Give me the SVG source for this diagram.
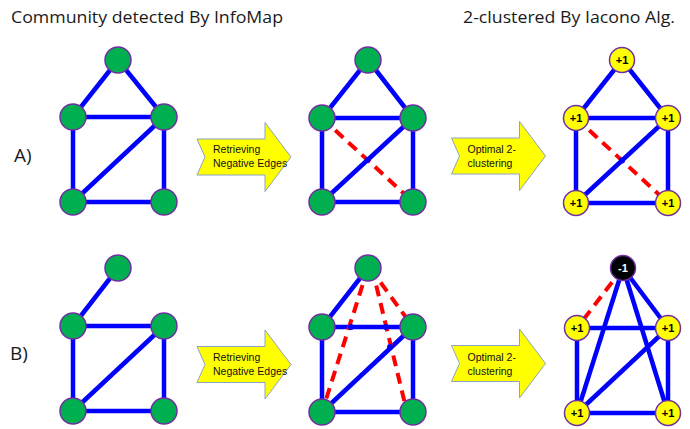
<svg xmlns="http://www.w3.org/2000/svg" xmlns:xlink="http://www.w3.org/1999/xlink" width="690" height="429" viewBox="0 0 690 429">
<defs>
<style>
.title{font-family:"Open Sans","Liberation Sans",sans-serif;font-size:17px;fill:#1a1a1a}
.lab{font-family:"Open Sans","Liberation Sans",sans-serif;font-size:19px;fill:#1a1a1a}
.at{font-family:"Liberation Sans",Arial,sans-serif;font-size:10.5px;fill:#111}
.e{stroke:#0000FF;stroke-width:4.5;fill:none}
.n{stroke:#FF0000;stroke-width:4;stroke-dasharray:11 7;fill:none}
.g{fill:#00B050;stroke:#7030A0;stroke-width:1.5}
.y{fill:#FFFF00;stroke:#7030A0;stroke-width:1.5}
.k{fill:#000000;stroke:#7030A0;stroke-width:1.5}
.nt{font-family:"Liberation Sans",Arial,sans-serif;font-size:11px;font-weight:bold;text-anchor:middle;fill:#000}
.wt{fill:#FFFFFF}
.dot{fill:#0000FF}
.arr{fill:#FFFF00;stroke:#8AA3C0;stroke-width:1}
</style>
<path id="arrow" d="M0,-18 L68,-18 L68,-34.5 L94,0 L68,34.5 L68,18 L0,18 L8,0 Z"/>
</defs>
<rect width="690" height="429" fill="#FFFFFF"/>
<text class="title" x="11" y="23" textLength="272" lengthAdjust="spacingAndGlyphs">Community detected By InfoMap</text>
<text class="title" x="463" y="23" textLength="212" lengthAdjust="spacingAndGlyphs">2-clustered By Iacono Alg.</text>
<text class="lab" x="14" y="162">A)</text>
<text class="lab" x="10" y="360">B)</text>
<g id="arrows">
<g id="arrowA1"><use xlink:href="#arrow" class="arr" transform="translate(197,157)"/><text class="at" x="213" y="153">Retrieving</text><text class="at" x="213" y="167">Negative Edges</text></g>
<g id="arrowA2"><use xlink:href="#arrow" class="arr" transform="translate(451.5,156)"/><text class="at" x="467.5" y="153">Optimal 2-</text><text class="at" x="467.5" y="167">clustering</text></g>
<g id="arrowB1"><use xlink:href="#arrow" class="arr" transform="translate(197,364.5)"/><text class="at" x="213" y="361">Retrieving</text><text class="at" x="213" y="375">Negative Edges</text></g>
<g id="arrowB2"><use xlink:href="#arrow" class="arr" transform="translate(451.5,363.5)"/><text class="at" x="467.5" y="361">Optimal 2-</text><text class="at" x="467.5" y="375">clustering</text></g>
</g>
<g id="connectors">
<line class="e" x1="118" y1="60" x2="73" y2="117"/>
<line class="e" x1="118" y1="60" x2="164" y2="117"/>
<line class="e" x1="73" y1="117" x2="164" y2="117"/>
<line class="e" x1="73" y1="117" x2="73" y2="202"/>
<line class="e" x1="164" y1="117" x2="164" y2="202"/>
<line class="e" x1="73" y1="202" x2="164" y2="117"/>
<line class="e" x1="73" y1="202" x2="164" y2="202"/>
<line class="e" x1="368" y1="60" x2="322" y2="118"/>
<line class="e" x1="368" y1="60" x2="413" y2="118"/>
<line class="e" x1="322" y1="118" x2="413" y2="118"/>
<line class="e" x1="322" y1="118" x2="322" y2="202"/>
<line class="e" x1="413" y1="118" x2="413" y2="202"/>
<line class="e" x1="322" y1="202" x2="413" y2="118"/>
<line class="e" x1="322" y1="202" x2="413" y2="202"/>
<line class="n" x1="322" y1="118" x2="413" y2="202"/>
<line class="e" x1="622" y1="60" x2="576" y2="118"/>
<line class="e" x1="622" y1="60" x2="668" y2="118"/>
<line class="e" x1="576" y1="118" x2="668" y2="118"/>
<line class="e" x1="576" y1="118" x2="576" y2="203"/>
<line class="e" x1="668" y1="118" x2="668" y2="203"/>
<line class="e" x1="576" y1="203" x2="668" y2="118"/>
<line class="e" x1="576" y1="203" x2="668" y2="203"/>
<line class="n" x1="576" y1="118" x2="668" y2="203"/>
<line class="e" x1="118" y1="268" x2="73" y2="326"/>
<line class="e" x1="73" y1="326" x2="164" y2="326"/>
<line class="e" x1="73" y1="326" x2="73" y2="411"/>
<line class="e" x1="164" y1="326" x2="164" y2="411"/>
<line class="e" x1="73" y1="411" x2="164" y2="326"/>
<line class="e" x1="73" y1="411" x2="164" y2="411"/>
<line class="e" x1="368" y1="268" x2="322" y2="327"/>
<line class="e" x1="322" y1="327" x2="413" y2="327"/>
<line class="e" x1="322" y1="327" x2="322" y2="412"/>
<line class="e" x1="413" y1="327" x2="413" y2="412"/>
<line class="e" x1="322" y1="412" x2="413" y2="327"/>
<line class="e" x1="322" y1="412" x2="413" y2="412"/>
<line class="n" x1="368" y1="268" x2="322" y2="412"/>
<line class="n" x1="372" y1="268" x2="407" y2="412"/>
<line class="n" x1="370" y1="268" x2="413" y2="327"/>
<line class="n" x1="623" y1="268" x2="577" y2="328"/>
<line class="e" x1="623" y1="268" x2="577" y2="413"/>
<line class="e" x1="623" y1="268" x2="668" y2="413"/>
<line class="e" x1="623" y1="268" x2="668" y2="328"/>
<line class="e" x1="577" y1="328" x2="668" y2="328"/>
<line class="e" x1="577" y1="328" x2="577" y2="413"/>
<line class="e" x1="668" y1="328" x2="668" y2="413"/>
<line class="e" x1="577" y1="413" x2="668" y2="328"/>
<line class="e" x1="577" y1="413" x2="668" y2="413"/>
<circle class="dot" cx="367.5" cy="160" r="3"/>
<circle class="dot" cx="622" cy="160.5" r="3"/>
<circle class="dot" cx="351" cy="327" r="3"/>
<circle class="dot" cx="386" cy="327" r="3"/>
<circle class="dot" cx="390" cy="347" r="3"/>
</g>
<g id="A1_top"><circle class="g" cx="118" cy="60" r="13"/></g>
<g id="A1_ml"><circle class="g" cx="73" cy="117" r="13"/></g>
<g id="A1_mr"><circle class="g" cx="164" cy="117" r="13"/></g>
<g id="A1_bl"><circle class="g" cx="73" cy="202" r="13"/></g>
<g id="A1_br"><circle class="g" cx="164" cy="202" r="13"/></g>
<g id="A2_top"><circle class="g" cx="368" cy="60" r="13"/></g>
<g id="A2_ml"><circle class="g" cx="322" cy="118" r="13"/></g>
<g id="A2_mr"><circle class="g" cx="413" cy="118" r="13"/></g>
<g id="A2_bl"><circle class="g" cx="322" cy="202" r="13"/></g>
<g id="A2_br"><circle class="g" cx="413" cy="202" r="13"/></g>
<g id="A3_top"><circle class="y" cx="622" cy="60" r="12.5"/><text class="nt" x="622" y="64">+1</text></g>
<g id="A3_ml"><circle class="y" cx="576" cy="118" r="12.5"/><text class="nt" x="576" y="122">+1</text></g>
<g id="A3_mr"><circle class="y" cx="668" cy="118" r="12.5"/><text class="nt" x="668" y="122">+1</text></g>
<g id="A3_bl"><circle class="y" cx="576" cy="203" r="12.5"/><text class="nt" x="576" y="207">+1</text></g>
<g id="A3_br"><circle class="y" cx="668" cy="203" r="12.5"/><text class="nt" x="668" y="207">+1</text></g>
<g id="B1_top"><circle class="g" cx="118" cy="268" r="13"/></g>
<g id="B1_ml"><circle class="g" cx="73" cy="326" r="13"/></g>
<g id="B1_mr"><circle class="g" cx="164" cy="326" r="13"/></g>
<g id="B1_bl"><circle class="g" cx="73" cy="411" r="13"/></g>
<g id="B1_br"><circle class="g" cx="164" cy="411" r="13"/></g>
<g id="B2_top"><circle class="g" cx="368" cy="268" r="13"/></g>
<g id="B2_ml"><circle class="g" cx="322" cy="327" r="13"/></g>
<g id="B2_mr"><circle class="g" cx="413" cy="327" r="13"/></g>
<g id="B2_bl"><circle class="g" cx="322" cy="412" r="13"/></g>
<g id="B2_br"><circle class="g" cx="413" cy="412" r="13"/></g>
<g id="B3_top"><circle class="k" cx="623" cy="268" r="12.5"/><text class="nt wt" x="623" y="272">-1</text></g>
<g id="B3_ml"><circle class="y" cx="577" cy="328" r="12.5"/><text class="nt" x="577" y="332">+1</text></g>
<g id="B3_mr"><circle class="y" cx="668" cy="328" r="12.5"/><text class="nt" x="668" y="332">+1</text></g>
<g id="B3_bl"><circle class="y" cx="577" cy="413" r="12.5"/><text class="nt" x="577" y="417">+1</text></g>
<g id="B3_br"><circle class="y" cx="668" cy="413" r="12.5"/><text class="nt" x="668" y="417">+1</text></g>
</svg>
